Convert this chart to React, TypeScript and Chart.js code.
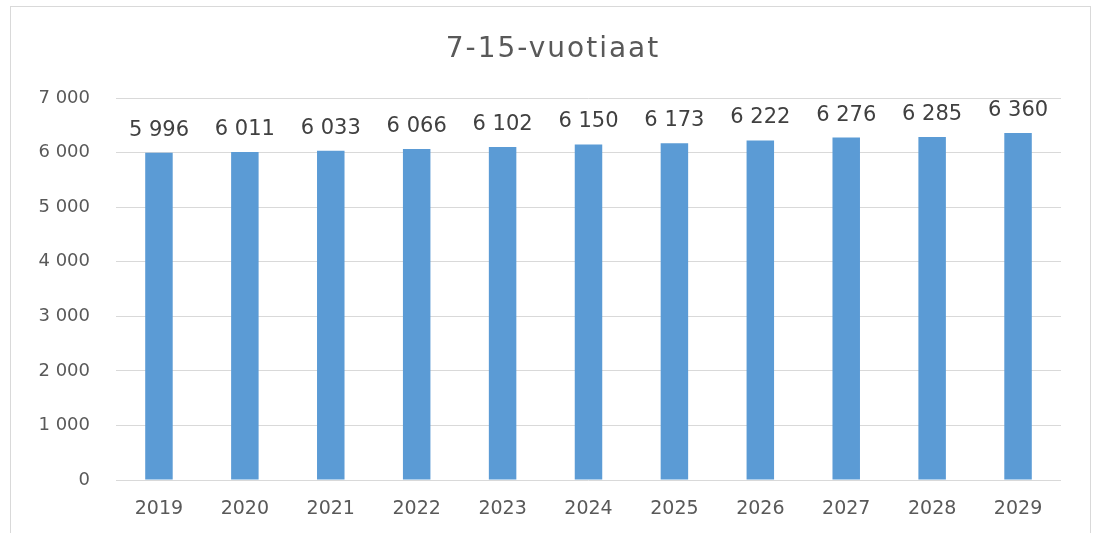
import React, { useEffect, useRef } from "react";
import { Chart, registerables } from "chart.js";

Chart.register(...registerables);

const categories = ["2019", "2020", "2021", "2022", "2023", "2024", "2025", "2026", "2027", "2028", "2029"];
const values = [5996, 6011, 6033, 6066, 6102, 6150, 6173, 6222, 6276, 6285, 6360];
const titleText = "7-15-vuotiaat";
const yMax = 7000;
const yStep = 1000;

const fmt = (v: number) => String(Math.round(v)).replace(/\B(?=(\d{3})+(?!\d))/g, " ");

const FONT = "'DejaVu Sans', sans-serif";

const decorPlugin = {
  id: "decor",
  beforeDraw(chart: any) {
    const ctx = chart.ctx;
    ctx.save();
    ctx.fillStyle = "#ffffff";
    ctx.fillRect(0, 0, chart.width, chart.height);
    ctx.strokeStyle = "#D9D9D9";
    ctx.lineWidth = 1;
    ctx.strokeRect(10.5, 6.5, 1080, 540);
    ctx.restore();
  },
  afterDraw(chart: any) {
    const ctx = chart.ctx;
    ctx.save();
    // title
    ctx.fillStyle = "#595959";
    ctx.font = `28px ${FONT}`;
    (ctx as any).letterSpacing = "2px";
    ctx.textAlign = "center";
    ctx.textBaseline = "alphabetic";
    ctx.fillText(titleText, 553, 57);
    // data labels
    ctx.font = `21px ${FONT}`;
    (ctx as any).letterSpacing = "0px";
    ctx.fillStyle = "#404040";
    const meta = chart.getDatasetMeta(0);
    meta.data.forEach((bar: any, i: number) => {
      ctx.fillText(fmt(values[i]), bar.x, bar.y - 17);
    });
    ctx.restore();
  },
};

export default function App() {
  const ref = useRef<HTMLCanvasElement | null>(null);
  useEffect(() => {
    if (!ref.current) return;
    const chart = new Chart(ref.current, {
      type: "bar",
      data: {
        labels: categories,
        datasets: [
          {
            data: values,
            backgroundColor: "#5B9BD5",
            borderColor: "#6FA8DC",
            borderWidth: 0,
            barPercentage: 0.32,
            categoryPercentage: 1,
          },
        ],
      },
      options: {
        animation: false,
        responsive: true,
        maintainAspectRatio: false,
        layout: { padding: { left: 0, right: 32, top: 98, bottom: 0 } },
        plugins: {
          legend: { display: false },
          title: { display: false },
          tooltip: { enabled: false },
        },
        scales: {
          x: {
            grid: { display: false, drawTicks: false },
            border: { display: false },
            ticks: {
              color: "#595959",
              font: { family: FONT, size: 19 },
              padding: 18,
              maxRotation: 0,
            },
            afterFit(scale: any) {
              scale.height = 53;
            },
          },
          y: {
            min: 0,
            max: yMax,
            grid: { color: "#D9D9D9", lineWidth: 1, drawTicks: false },
            border: { display: false },
            ticks: {
              stepSize: yStep,
              color: "#595959",
              font: { family: FONT, size: 18 },
              padding: 26,
              callback: (v: any) => fmt(Number(v)),
            },
            afterFit(scale: any) {
              scale.width = 116;
            },
          },
        },
      },
      plugins: [decorPlugin],
    });
    return () => chart.destroy();
  }, []);
  return (
    <div style={{ position: "fixed", left: 0, top: 0, width: 1093, height: 533, background: "#fff" }}>
      <canvas ref={ref} />
    </div>
  );
}
